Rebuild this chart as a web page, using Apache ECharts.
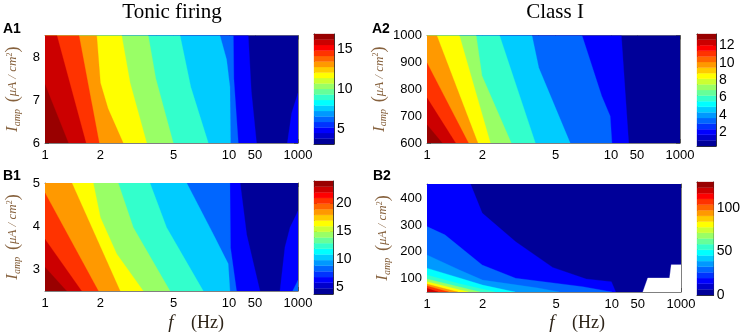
<!DOCTYPE html>
<html lang="en">
<head>
    <meta charset="utf-8">
    <script type="text/javascript" src="https://cdn.jsdelivr.net/npm/echarts@6/dist/echarts.min.js"></script>
    <title>Tonic firing / Class I contour maps</title>
</head>
<body style="margin: 0">
<div id="container" style="width: 743px; height: 336px"></div>

<script type="text/javascript">
    // frequency axis (Hz): ticks and labels
    var freqTicks = [1, 2, 4, 5, 10, 50, 1000];
    var freqLabels = [1, 2, 5, 10, 50, 1000];

    // ---- A1 : Tonic firing, top ----
    var a1Range = [6, 8.5];
    var a1YTicks = [6, 7, 8];
    var a1Scale = [3.1, 16.9];
    var a1ScaleTicks = [5, 10, 15];
    var a1Back = 3.45;
    var a1RightVals = [4.83];
    var a1RightEdges = [
        [[1000, 7.16], [644, 6.7], [476, 6]]
    ];
    var a1LeftVals = [4.83, 6.2, 7.6, 9.0, 10.35, 11.7, 13.1, 14.5, 15.9, 16.6];
    var a1LeftEdges = [
        [[33, 8.5], [40, 7.2], [56, 6]],
        [[13.1, 8.5], [13.5, 7.5], [17.8, 6]],
        [[8.93, 8.5], [9.7, 7.94], [10.6, 7.3], [11, 6]],
        [[5.42, 8.5], [6.2, 7.3], [7.72, 6]],
        [[3.64, 8.5], [4.0, 7.5], [4.98, 6]],
        [[2.61, 8.5], [2.9, 7.4], [3.57, 6]],
        [[1.91, 8.5], [2.0, 7.4], [2.2, 6.8], [2.66, 6]],
        [[1.53, 8.5], [1.97, 6]],
        [[1.16, 8.5], [1.67, 6]],
        [[1, 7.36], [1.34, 6]]
    ];

    // ---- A2 : Class I, top ----
    var a2Range = [600, 1000];
    var a2YTicks = [600, 700, 800, 900, 1000];
    var a2Scale = [0.4, 13.3];
    var a2ScaleTicks = [2, 4, 6, 8, 10, 12];
    var a2Back = 0.72;
    var a2RightVals = [];
    var a2RightEdges = [];
    var a2LeftVals = [2.0, 3.3, 4.6, 5.9, 7.2, 8.5, 9.7, 11.0, 12.3, 13.0];
    var a2LeftEdges = [
        [[19, 1000], [30, 600]],
        [[6.96, 1000], [8.9, 775], [9.9, 700], [10.6, 600]],
        [[3.72, 1000], [4.05, 880], [6.0, 600]],
        [[2.48, 1000], [3.88, 600]],
        [[1.85, 1000], [1.99, 850], [2.87, 600]],
        [[1.5, 1000], [2.21, 600]],
        [[1.13, 1000], [1.89, 600]],
        [[1, 898], [1.68, 600]],
        [[1, 768], [1.43, 600]],
        [[1, 668], [1.21, 600]]
    ];

    // ---- B1 : Tonic firing, bottom ----
    var b1Range = [2.5, 5];
    var b1YTicks = [3, 4, 5];
    var b1Scale = [3.8, 24];
    var b1ScaleTicks = [5, 10, 15, 20];
    var b1Back = 4.3;
    var b1RightVals = [6.3, 8.35];
    var b1RightEdges = [
        [[1000, 4.35], [576, 3.97], [403, 3.51], [285, 2.5]],
        [[1000, 2.75], [690, 2.5]]
    ];
    var b1LeftVals = [6.3, 8.35, 10.4, 12.4, 14.4, 16.4, 18.5, 20.5, 22.5, 23.5];
    var b1LeftEdges = [
        [[20, 5], [30, 3.8], [71, 2.5]],
        [[10.6, 5], [11, 3.5], [16, 2.5]],
        [[5.89, 5], [8.2, 3.82], [9.9, 3.13], [10.6, 2.5]],
        [[3.72, 5], [4.58, 3.97], [7.25, 2.5]],
        [[2.5, 5], [3.02, 3.97], [4.78, 2.5]],
        [[1.83, 5], [2.0, 4.2], [2.45, 3.36], [3.42, 2.5]],
        [[1.4, 5], [2.56, 2.5]],
        [[1, 4.77], [1.95, 2.5]],
        [[1, 3.7], [1.58, 2.5]],
        [[1, 3.05], [1.31, 2.5]]
    ];

    // ---- B2 : Class I, bottom ----
    var b2Range = [47, 455];
    var b2YTicks = [100, 200, 300, 400];
    var b2Scale = [0, 130];
    var b2ScaleTicks = [0, 50, 100];
    var b2Back = 3;
    var b2RightVals = [null];   // no data (white)
    var b2RightEdges = [
        [[1000, 150], [508, 150], [452, 100], [100, 100], [71, 47]]
    ];
    var b2LeftVals = [17, 30, 38, 49, 57, 69, 82, 95, 108, 122];
    var b2LeftEdges = [
        [[1.72, 455], [1.99, 345], [3.02, 237], [4.79, 140], [7.28, 96], [9.96, 86], [12.8, 47]],
        [[1, 294], [1.25, 263], [1.99, 149], [3.02, 99], [6.98, 67], [10.2, 47]],
        [[1, 187], [1.5, 130], [2, 92], [4, 62], [5.2, 47]],
        [[1, 137], [1.5, 100], [2, 73], [3, 47]],
        [[1, 111], [1.5, 78], [2.34, 47]],
        [[1, 96], [1.94, 47]],
        [[1, 86], [1.68, 47]],
        [[1, 77], [1.47, 47]],
        [[1, 70], [1.31, 47]],
        [[1, 61], [1.15, 47]]
    ];

    // x axis is log from 1 to 10 Hz, then squeezed up to 1000 Hz
    var fAnchors = [[1, 0], [10, 1], [50, 1.141], [1000, 1.375]];
    function toU(f) {
        var lf = Math.log10(f);
        for (var i = 1; i < fAnchors.length; i++) {
            var a = fAnchors[i - 1], b = fAnchors[i];
            if (f <= b[0] || i == fAnchors.length - 1) {
                var la = Math.log10(a[0]), lb = Math.log10(b[0]);
                return a[1] + (lf - la) / (lb - la) * (b[1] - a[1]);
            }
        }
    }
    function freqLabel(u) {
        for (var i = 0; i < freqLabels.length; i++) {
            if (Math.abs(toU(freqLabels[i]) - u) < 1e-6) return String(freqLabels[i]);
        }
        return '';
    }

    // jet colormap, 20 steps
    var nColors = 20;
    function clamp(x) { return Math.max(0, Math.min(1, x)); }
    function jet(k) {
        var t = (k + 0.5) / nColors;
        var r = clamp(1.5 - Math.abs(4 * t - 3));
        var g = clamp(1.5 - Math.abs(4 * t - 2));
        var b = clamp(1.5 - Math.abs(4 * t - 1));
        return 'rgb(' + Math.round(r * 255) + ',' + Math.round(g * 255) + ',' + Math.round(b * 255) + ')';
    }
    function colorOf(v, scale) {
        if (v == null) return '#ffffff';
        var k = Math.floor((v - scale[0]) / (scale[1] - scale[0]) * nColors);
        return jet(Math.max(0, Math.min(nColors - 1, k)));
    }

    var grey = '#808080';
    var sans = 'Liberation Sans';
    var serif = 'Liberation Serif';
    var brown = '#86613d';
    var uMax = toU(1000);

    var panels = [
        {grid: {left: 45, top: 35.5, width: 253, height: 107.5}, bar: {left: 314, top: 34, width: 20, height: 110},
         range: a1Range, yTicks: a1YTicks, scale: a1Scale, scaleTicks: a1ScaleTicks, back: a1Back,
         rightVals: a1RightVals, rightEdges: a1RightEdges, leftVals: a1LeftVals, leftEdges: a1LeftEdges, nameGap: 22},
        {grid: {left: 427, top: 35.5, width: 253, height: 107.5}, bar: {left: 697, top: 34, width: 19, height: 112},
         range: a2Range, yTicks: a2YTicks, scale: a2Scale, scaleTicks: a2ScaleTicks, back: a2Back,
         rightVals: a2RightVals, rightEdges: a2RightEdges, leftVals: a2LeftVals, leftEdges: a2LeftEdges, nameGap: 35},
        {grid: {left: 45, top: 183, width: 253, height: 108}, bar: {left: 314, top: 181, width: 19, height: 113},
         range: b1Range, yTicks: b1YTicks, scale: b1Scale, scaleTicks: b1ScaleTicks, back: b1Back,
         rightVals: b1RightVals, rightEdges: b1RightEdges, leftVals: b1LeftVals, leftEdges: b1LeftEdges, nameGap: 22},
        {grid: {left: 427, top: 184, width: 254, height: 108}, bar: {left: 697, top: 182, width: 19, height: 113},
         range: b2Range, yTicks: b2YTicks, scale: b2Scale, scaleTicks: b2ScaleTicks, back: b2Back,
         rightVals: b2RightVals, rightEdges: b2RightEdges, leftVals: b2LeftVals, leftEdges: b2LeftEdges, nameGap: 34}
    ];

    var yName = '{i|I}{s|amp}  {p|(}{m|μA / cm}{e|2}{p|)}';
    var yNameRich = {
        i: {fontFamily: serif, fontStyle: 'italic', fontSize: 17, color: brown, lineHeight: 20, verticalAlign: 'middle'},
        s: {fontFamily: serif, fontStyle: 'italic', fontSize: 10, color: brown, lineHeight: 20, verticalAlign: 'bottom', padding: [0, 0, 1, 0]},
        p: {fontFamily: serif, fontSize: 18, color: brown, lineHeight: 20, verticalAlign: 'middle'},
        m: {fontFamily: serif, fontStyle: 'italic', fontSize: 13, color: brown, lineHeight: 20, verticalAlign: 'middle'},
        e: {fontFamily: serif, fontSize: 8, color: brown, lineHeight: 20, verticalAlign: 'top', padding: [3, 0, 0, 0]}
    };

    var grids = [], xAxes = [], yAxes = [], series = [];

    panels.forEach(function (p, i) {
        grids.push(p.grid, p.bar);
        var g = 2 * i;

        // plot frame: bottom / top x, left / right y
        ['bottom', 'top'].forEach(function (pos) {
            xAxes.push({
                gridIndex: g, type: 'value', min: 0, max: uMax, position: pos,
                axisLine: {show: true, onZero: false, lineStyle: {color: grey}},
                axisTick: {show: true, inside: true, length: 4, customValues: freqTicks.map(toU), lineStyle: {color: '#555'}},
                axisLabel: {show: pos == 'bottom', customValues: freqLabels.map(toU), formatter: freqLabel,
                    color: '#000', fontSize: 13, fontFamily: sans, margin: 6},
                splitLine: {show: false}
            });
        });
        ['left', 'right'].forEach(function (pos) {
            yAxes.push({
                gridIndex: g, type: 'value', min: p.range[0], max: p.range[1], position: pos,
                axisLine: {show: true, onZero: false, lineStyle: {color: grey}},
                axisTick: {show: true, inside: true, length: 4, customValues: p.yTicks, lineStyle: {color: '#555'}},
                axisLabel: {show: pos == 'left', customValues: p.yTicks, formatter: function (v) { return String(v); },
                    color: '#000', fontSize: 13, fontFamily: sans, margin: 5},
                splitLine: {show: false},
                name: pos == 'left' ? yName : '', nameLocation: 'middle', nameGap: p.nameGap,
                nameTextStyle: {rich: yNameRich}
            });
        });

        // colorbar frame
        ['bottom', 'top'].forEach(function (pos) {
            xAxes.push({
                gridIndex: g + 1, type: 'value', min: 0, max: 1, position: pos,
                axisLine: {show: true, onZero: false, lineStyle: {color: '#333'}},
                axisTick: {show: false}, axisLabel: {show: false}, splitLine: {show: false}
            });
        });
        ['left', 'right'].forEach(function (pos) {
            yAxes.push({
                gridIndex: g + 1, type: 'value', min: p.scale[0], max: p.scale[1], position: pos,
                axisLine: {show: true, onZero: false, lineStyle: {color: '#333'}},
                axisTick: {show: true, inside: true, length: 3, customValues: p.scaleTicks, lineStyle: {color: '#333'}},
                axisLabel: {show: pos == 'right', customValues: p.scaleTicks, formatter: function (v) { return String(v); },
                    color: '#000', fontSize: 14, fontFamily: sans, margin: 3},
                splitLine: {show: false}
            });
        });

        // filled contour bands, painted back to front
        var x0 = freqTicks[0], x1 = freqTicks[freqTicks.length - 1];
        var polys = [{color: colorOf(p.back, p.scale),
            pts: [[x0, p.range[0]], [x1, p.range[0]], [x1, p.range[1]], [x0, p.range[1]]]}];
        p.rightEdges.forEach(function (e, j) {
            polys.push({color: colorOf(p.rightVals[j], p.scale),
                pts: e.concat([[x1, e[e.length - 1][1]], [x1, e[0][1]]])});
        });
        p.leftEdges.forEach(function (e, j) {
            polys.push({color: colorOf(p.leftVals[j], p.scale),
                pts: e.concat([[x0, e[e.length - 1][1]], [x0, e[0][1]]])});
        });
        series.push({
            type: 'custom', xAxisIndex: 4 * i, yAxisIndex: 4 * i, clip: true, silent: true, z: 1,
            data: polys.map(function (d, j) { return [j]; }),
            renderItem: function (params, api) {
                var d = polys[params.dataIndex];
                return {
                    type: 'polygon',
                    shape: {points: d.pts.map(function (q) { return api.coord([toU(q[0]), q[1]]); })},
                    style: {fill: d.color, stroke: d.color, lineWidth: 0.3}
                };
            }
        });

        // colorbar steps
        var steps = [];
        for (var k = 0; k < nColors; k++) steps.push([k]);
        series.push({
            type: 'custom', xAxisIndex: 4 * i + 2, yAxisIndex: 4 * i + 2, silent: true, z: 1,
            data: steps,
            renderItem: function (params, api) {
                var k = params.dataIndex;
                var step = (p.scale[1] - p.scale[0]) / nColors;
                var a = api.coord([0, p.scale[0] + (k + 1) * step]);
                var b = api.coord([1, p.scale[0] + k * step]);
                return {
                    type: 'rect',
                    shape: {x: a[0], y: a[1], width: b[0] - a[0], height: b[1] - a[1]},
                    style: {fill: jet(k), stroke: jet(k), lineWidth: 0.3}
                };
            }
        });
    });

    function label(x, y, text, font, align) {
        return {type: 'text', x: x, y: y, silent: true,
            style: {text: text, font: font, fill: '#000', align: align || 'left', verticalAlign: 'middle'}};
    }
    function freqTitle(x, y) {
        return [
            {type: 'text', x: x, y: y, silent: true,
             style: {text: 'f', font: 'italic 19px ' + serif, fill: '#2e2418', align: 'center', verticalAlign: 'middle'}},
            {type: 'text', x: x + 20, y: y, silent: true,
             style: {text: '(Hz)', font: '18px ' + serif, fill: '#2e2418', align: 'left', verticalAlign: 'middle'}}
        ];
    }

    var option = {
        backgroundColor: '#ffffff',
        animation: false,
        grid: grids,
        xAxis: xAxes,
        yAxis: yAxes,
        series: series,
        graphic: [
            label(172, 12, 'Tonic firing', '21px ' + serif, 'center'),
            label(555, 12, 'Class I', '21px ' + serif, 'center'),
            label(3, 29, 'A1', 'bold 14px ' + sans),
            label(372, 29, 'A2', 'bold 14px ' + sans),
            label(3, 176, 'B1', 'bold 14px ' + sans),
            label(373, 176, 'B2', 'bold 14px ' + sans)
        ].concat(freqTitle(171, 323), freqTitle(552, 323))
    };

    var myChart = echarts.init(document.getElementById('container'), null, {renderer: 'canvas'});
    myChart.setOption(option);
    window.addEventListener('resize', myChart.resize);
</script>
</body>
</html>
